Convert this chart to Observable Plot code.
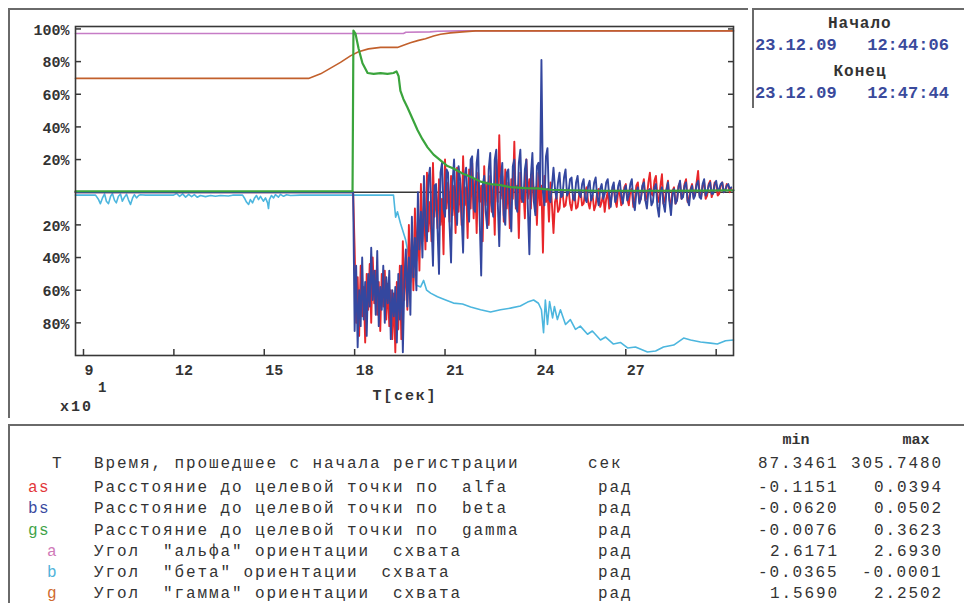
<!DOCTYPE html>
<html>
<head>
<meta charset="utf-8">
<script src="https://cdn.jsdelivr.net/npm/d3@7"></script>
<script src="https://cdn.jsdelivr.net/npm/@observablehq/plot@0.6"></script>
<style>
  body { margin: 0; background: #fff; }
  #page { position: relative; width: 964px; height: 603px; overflow: hidden;
          font-family: "Liberation Mono", "DejaVu Sans Mono", monospace; color: #333; }
  #chart { position: absolute; left: 0; top: 0; }
  .t { position: absolute; white-space: pre; line-height: 1; }
  .line { position: absolute; border-color: #6a6a6a; border-style: solid; border-width: 0; }
</style>
</head>
<body>
<div id="page">
  <div class="line" style="left:8px;top:8px;width:738px;height:408px;border-top-width:2px;border-left-width:2px;"></div>
  <div class="line" style="left:752px;top:8px;width:212px;height:98px;border-top-width:2px;border-left-width:2px;"></div>
  <div class="line" style="left:8px;top:424px;width:956px;height:179px;border-top-width:2px;border-left-width:2px;"></div>
  <div id="chart"></div>
</div>
<script>
// Recording window, seconds (T min / T max)
const timeStart = 87.3461;
const timeEnd = 305.7480;

// Axis ticks (time in seconds, labels in units of x10 s)
const xTickValues = [90, 120, 150, 180, 210, 240, 270, 300];
const xTickLabels = ["9", "12", "15", "18", "21", "24", "27", ""];
const yTickValues = [100, 80, 60, 40, 20, -20, -40, -60, -80];
const yTickLabels = ["100%", "80%", "60%", "40%", "20%", "20%", "40%", "60%", "80%"];

// a — angle "alfa" of the gripper, %
const aTime  = [87.3461, 196.2, 197.0, 205.0, 207.5, 215.0, 305.748];
const aValue = [97.2, 97.2, 98.0, 98.2, 98.6, 98.8, 98.8];

// g — angle "gamma" of the gripper, %
const gTime  = [87.3461, 164.7, 168.7, 172.0, 175.3, 178.6, 181.3, 184.6, 188.6, 194.2, 196.2, 198.5, 201.2, 203.5, 206.2, 208.5, 211.8, 215.8, 220.1, 305.748];
const gValue = [69.7, 69.7, 72.5, 76.0, 79.5, 83.5, 86.0, 87.8, 88.7, 88.7, 90.0, 91.5, 93.0, 94.0, 95.7, 96.8, 97.6, 98.2, 98.8, 98.8];

// b — angle "beta" of the gripper, %
const bTime = [87.3461, 94.0, 95.0, 95.6, 96.3, 97.0, 97.6, 98.3, 99.0, 99.6, 100.3, 100.9, 101.6, 102.3, 102.9, 103.6, 104.3, 104.9, 105.6, 106.3, 106.9, 107.6, 108.3, 108.9, 110.6,
  119.9, 120.9, 121.9, 122.9, 123.9, 124.9, 125.9, 126.8, 127.8, 128.8, 130.5, 132.2, 133.8, 135.5, 138.1, 139.5,
  142.8, 143.4, 144.1, 144.8, 145.4, 146.1, 146.8, 147.4, 148.1, 148.75, 149.7, 150.4, 151.1, 151.4, 151.7, 152.4, 153.1, 153.7, 154.7, 155.4, 156.4, 157.4, 158.7, 162.0,
  192.9, 193.6, 194.2, 195.2, 196.9, 198.5, 199.5, 200.5, 201.9, 202.9, 203.9, 205.2, 207.5, 210.2, 212.8, 215.8, 218.5, 221.8, 225.1, 228.4, 231.7, 235.0, 237.4, 239.4,
  241.0, 242.0, 242.7, 243.3, 244.0, 244.7, 245.7, 246.3, 247.3, 248.3, 250.0, 251.6, 253.3, 254.9, 257.3, 258.9, 261.6, 263.3, 265.9, 268.2, 270.6, 273.2, 277.2, 279.9,
  282.5, 285.9, 289.2, 291.5, 294.8, 298.1, 300.4, 303.1, 305.748];
const bValue = [-1.8, -1.8, -4.5, -7, -3.5, -1, -5.5, -7, -2.5, -0.8, -5, -6.5, -2.5, -1.2, -5.5, -3, -1.2, -4.5, -7.5, -3.5, -1.5, -3.5, -2, -1.5, -1.8,
  -1.8, -0.8, -2.5, -1, -3, -1.3, -2.7, -1.5, -3.1, -2, -2.7, -2, -2.5, -2, -2.3, -1.8,
  -1.8, -3.5, -6, -7.5, -4.5, -6.5, -3.5, -2, -4.5, -2.5, -5.5, -3.5, -6.5, -10, -4.5, -2, -3.5, -1.5, -3, -1.3, -2.5, -1.5, -2, -1.8,
  -1.8, -15.3, -12, -19, -29, -44.6, -47.7, -57, -58, -54, -60, -61.8, -64, -66, -67.9, -68.5, -70.3, -72, -73.4, -72, -71, -69.7, -67.3, -66,
  -68, -72, -86, -66, -81, -67, -77, -70, -78, -72, -81, -78, -84, -82, -87, -85, -90.5, -88.7, -93, -92, -95.4, -94.8, -97.9, -97.2,
  -94.8, -93.6, -89.3, -90.5, -91.7, -92.4, -93, -91, -90.5];

// gs — distance to the target point along gamma, %
const gsTime = [87.3461, 179.3, 179.6, 180.3, 181.3, 182.6, 184.3, 186.3, 188.6, 190.9, 192.9, 193.9, 194.6, 195.2, 196.2, 197.5, 199.2, 200.9, 202.5, 204.2, 206.2, 208.5,
  210.8, 212.8, 215.8, 218.5, 221.8, 225.1, 228.4, 231.7, 236.7, 240.7, 245.0, 251.6, 261.6, 278.2, 294.8, 305.748];
const gsValue = [0.6, 0.6, 99, 97, 88, 79, 73, 72.5, 73, 72.5, 73, 74, 71, 62, 57, 52, 45, 38, 32.5, 27.5, 23, 19.5,
  16, 14.5, 11.5, 9.5, 6.5, 5, 4.3, 3.1, 2.5, 2.4, 1.5, 1.2, 0.9, 0.9, 1.0, 1.2];

// as / bs — distances along alfa / beta: idle before the move, then sampled every 0.5 s from 180 s
const restTime = [87.3461, 179.5];
const restValue = [0, 0];
const sampleStart = 180;
const sampleStep = 0.5;
const asValue = [
  // 180 – 189.5
  -35, -80, -52, -88, -45, -76, -58, -92, -50, -72,  -44, -80, -40, -68, -48, -75, -55, -85, -50, -70,
  // 190 – 199.5
  -48, -78, -56, -82, -60, -90, -62, -98, -55, -84,  -45, -90, -30, -66, -40, -72, -20, -55, -28, -60,
  // 200 – 209.5
  -10, -42, -18, -48, 5, -30, -8, -35, 12, -24,  -6, -30, 18, -15, 2, -22, 8, -20, -4, -38,
  // 210 – 219.5
  20, -10, 6, -18, 10, -14, 4, -25, 15, -12,  6, -20, 22, -8, 3, -28, 14, -10, 18, -16,
  // 220 – 229.5
  8, -25, 12, -6, 4, -30, 16, -8, 6, -20,  10, -12, 4, -26, 20, -6, 35, -4, 10, -18,
  // 230 – 239.5
  14, -10, 6, -22, 8, -4, 31, -10, 4, -28,  12, -6, 2, -16, 20, -4, 8, -10, 15, -6,
  // 240 – 249.5
  3, -20, 12, -8, 4, -37, 10, -6, 2, -18,  6, -8, -25, -6, -2, -12, -10, 1, 0, -9,
  // 250 – 259.5
  -8, -1, 2, -7, -11, -3, -1, -10, -9, -2,  1, -8, -7, 0, 3, -6, -10, -4, -2, -11,
  // 260 – 269.5
  -8, 0, 2, -9, -6, -1, -12, -4, 0, -10,  -7, 1, 4, -5, -9, 2, -1, -8, -6, 3,
  // 270 – 279.5
  5, -4, -8, 1, 2, -9, -5, 4, 6, -6,  -4, 3, 8, -5, -3, 6, 12, -1, -2, 7,
  // 280 – 289.5
  10, -3, -6, 4, 11, -7, -4, 2, 7, -5,  -8, 1, 3, -7, -5, 4, 6, -4, -2, 5,
  // 290 – 299.5
  8, -6, -4, 2, 5, -3, -1, 6, 13, -2,  -3, 4, 6, -4, -2, 5, 7, -3, 0, 6,
  // 300 – 305
  5, -2, -1, 4, 6, 0, 1, 5, 4, 0,  2
];
const bsValue = [
  // 180 – 189.5
  -85, -45, -95, -60, -82, -40, -78, -55, -88, -50,  -70, -34, -66, -48, -75, -36, -82, -58, -72, -45,
  // 190 – 199.5
  -80, -52, -68, -48, -90, -60, -76, -58, -92, -50,  -78, -45, -98, -55, -35, -70, -40, -75, -15, -52,
  // 200 – 209.5
  -28, -60, 0, -35, -12, -40, 10, -20, -30, 8,  15, -18, -45, 4, 5, -22, -50, 12, 18, -10,
  // 210 – 219.5
  -15, 14, 12, -20, -43, 6, 20, -8, -20, 16,  8, -14, -37, 10, 15, -6, -18, 20, 22, -10,
  // 220 – 229.5
  -12, 18, 26, -16, -51, 4, 10, -12, -22, 14,  24, -8, -15, 20, 26, -6, -33, 8, 18, -14,
  // 230 – 239.5
  -20, 12, 14, -10, -24, 16, 20, -8, -12, 18,  26, -4, -6, 14, 20, -10, -38, 10, 24, -6,
  // 240 – 249.5
  -14, 16, 18, 2, 81, 0, -8, 22, 27, -4,  -6, 4, 15, 2, -4, 6, 12, -3, -2, 9,
  // 250 – 259.5
  14, -2, 0, 8, 9, -4, -5, 6, 10, -1,  -3, 5, 8, -4, -6, 4, 7, -5, -2, 6,
  // 260 – 269.5
  9, -3, -8, 2, 5, -4, -1, 6, 8, -2,  -9, 3, 6, -6, -3, 4, 7, -2, -7, 1,
  // 270 – 279.5
  4, -5, -2, 5, 8, -6, -11, 0, 3, -7,  -4, 4, 6, -5, -10, 1, 2, -8, -6, 3,
  // 280 – 289.5
  5, -9, -15, 0, 3, -7, -12, 1, 6, -6,  -14, -1, 2, -7, -5, 3, 7, -4, -3, 4,
  // 290 – 299.5
  6, -5, -8, 1, 4, -4, -2, 5, 7, -3,  -4, 5, 8, -2, 0, 4, 6, -1, -1, 5,
  // 300 – 305
  7, 1, 2, 5, 6, 0, 1, 4, 5, 2,  3
];

// Legend table
const rowCodes = ["T", "as", "bs", "gs", "a", "b", "g"];
const rowColors = ["#333333", "#e2373a", "#3a4aa0", "#3fa348", "#d07ab8", "#4fb3da", "#cf6a2e"];
const rowNames = [
  "Время, прошедшее с начала регистрации",
  "Расстояние до целевой точки по  alfa",
  "Расстояние до целевой точки по  beta",
  "Расстояние до целевой точки по  gamma",
  "Угол  \"альфа\" ориентации  схвата",
  "Угол  \"бета\" ориентации  схвата",
  "Угол  \"гамма\" ориентации  схвата"
];
const rowUnits = ["сек", "рад", "рад", "рад", "рад", "рад", "рад"];
const rowMin = ["87.3461", "-0.1151", "-0.0620", "-0.0076", "2.6171", "-0.0365", "1.5690"];
const rowMax = ["305.7480", "0.0394", "0.0502", "0.3623", "2.6930", "-0.0001", "2.2502"];

// Session start / end
const sessionLabels = ["Начало", "Конец"];
const sessionStamps = ["23.12.09   12:44:06", "23.12.09   12:47:44"];

// Series colours
const colors = { as: "#e8262a", bs: "#34479f", gs: "#3aa43c", a: "#c67cc6", b: "#4cb6de", g: "#c2602c" };

const pairs = (ts, vs) => ts.map((t, i) => ({ t, v: vs[i] }));
const sampled = vs => pairs(restTime, restValue).concat(vs.map((v, i) => ({ t: sampleStart + i * sampleStep, v })));

const yLabel = new Map(yTickValues.map((v, i) => [v, yTickLabels[i]]));
const xLabel = new Map(xTickValues.map((v, i) => [v, xTickLabels[i]]));

const chart = Plot.plot({
  width: 746,
  height: 420,
  marginLeft: 75,
  marginRight: 13,
  marginTop: 26,
  marginBottom: 65,
  x: { domain: [timeStart, timeEnd] },
  y: { domain: [-100, 101.5] },
  style: { fontFamily: "Liberation Mono, monospace", fontSize: "15px", fontWeight: "bold", color: "#333", background: "transparent", overflow: "visible" },
  marks: [
    Plot.ruleY([0], { stroke: "#383838", strokeWidth: 1.5 }),
    Plot.line(pairs(aTime, aValue), { x: "t", y: "v", stroke: colors.a, strokeWidth: 1.6 }),
    Plot.line(pairs(gTime, gValue), { x: "t", y: "v", stroke: colors.g, strokeWidth: 1.6 }),
    Plot.line(pairs(bTime, bValue), { x: "t", y: "v", stroke: colors.b, strokeWidth: 1.6 }),
    Plot.line(sampled(asValue), { x: "t", y: "v", stroke: colors.as, strokeWidth: 1.9 }),
    Plot.line(sampled(bsValue), { x: "t", y: "v", stroke: colors.bs, strokeWidth: 1.9 }),
    Plot.line(pairs(gsTime, gsValue), { x: "t", y: "v", stroke: colors.gs, strokeWidth: 2.2 }),
    Plot.frame({ stroke: "#383838", strokeWidth: 1.6 }),
    // inward tick marks on three sides
    Plot.axisY({ ticks: yTickValues, tickSize: 6, fill: "none", dx: 6, stroke: "#383838", strokeWidth: 1.5, label: null }),
    Plot.axisY({ ticks: yTickValues, anchor: "right", tickSize: 6, fill: "none", dx: -6, stroke: "#383838", strokeWidth: 1.5, label: null }),
    Plot.axisX({ ticks: xTickValues, tickSize: 6, fill: "none", dy: -6, stroke: "#383838", strokeWidth: 1.5, label: null }),
    // tick labels
    Plot.axisY({ ticks: yTickValues, tickSize: 0, tickPadding: 6, dy: 1, tickFormat: d => yLabel.get(d), fill: "#333", label: null }),
    Plot.axisX({ ticks: xTickValues, tickSize: 0, tickPadding: 9, textAnchor: "start", dx: 1, tickFormat: d => xLabel.get(d), fill: "#333", label: null })
  ]
});
document.getElementById("chart").appendChild(chart);

// Text outside the plot area
const page = document.getElementById("page");
function addText(str, { left, right, center, cy, size, color = "#333", weight = "normal", spacing = 0 }) {
  const el = document.createElement("div");
  el.className = "t";
  el.textContent = str;
  el.style.fontSize = size + "px";
  el.style.color = color;
  el.style.fontWeight = weight;
  el.style.letterSpacing = spacing + "px";
  el.style.top = (cy - size * 0.5) + "px";
  page.appendChild(el);
  if (left != null) el.style.left = left + "px";
  if (right != null) el.style.left = (right - el.offsetWidth + spacing) + "px";
  if (center != null) el.style.left = (center - el.offsetWidth / 2) + "px";
  return el;
}

// axis title and multiplier
addText("T[сек]", { center: 405, cy: 396, size: 15, weight: "bold", spacing: 1.8 });
addText("x10", { left: 60, cy: 407, size: 15, weight: "bold", spacing: 2 });
addText("1", { left: 98, cy: 388, size: 14, weight: "bold" });

// session panel
sessionLabels.forEach((s, i) => {
  addText(s, { center: 860, cy: 24 + i * 48, size: 16, weight: "bold", spacing: 1 });
  addText(sessionStamps[i], { left: 755, cy: 45 + i * 48, size: 17, color: "#3a4a9c", weight: "bold" });
});

// legend table
const rowY = [464, 488, 509, 531, 552, 573, 594];
const codeLeft = [52, 28, 28, 28, 47, 47, 47];
addText("min", { center: 796, cy: 440, size: 15, weight: "bold" });
addText("max", { center: 916, cy: 440, size: 15, weight: "bold" });
rowCodes.forEach((c, i) => {
  const cy = rowY[i];
  addText(c, { left: codeLeft[i], cy, size: 16, color: rowColors[i], spacing: 1.3 });
  addText(rowNames[i], { left: 94, cy, size: 16, spacing: 1.9 });
  addText(rowUnits[i], { left: i === 0 ? 588 : 598, cy, size: 16, spacing: 1.9 });
  addText(rowMin[i], { right: 837, cy, size: 16, spacing: 1.9 });
  addText(rowMax[i], { right: 941, cy, size: 16, spacing: 1.9 });
});
</script>
</body>
</html>
